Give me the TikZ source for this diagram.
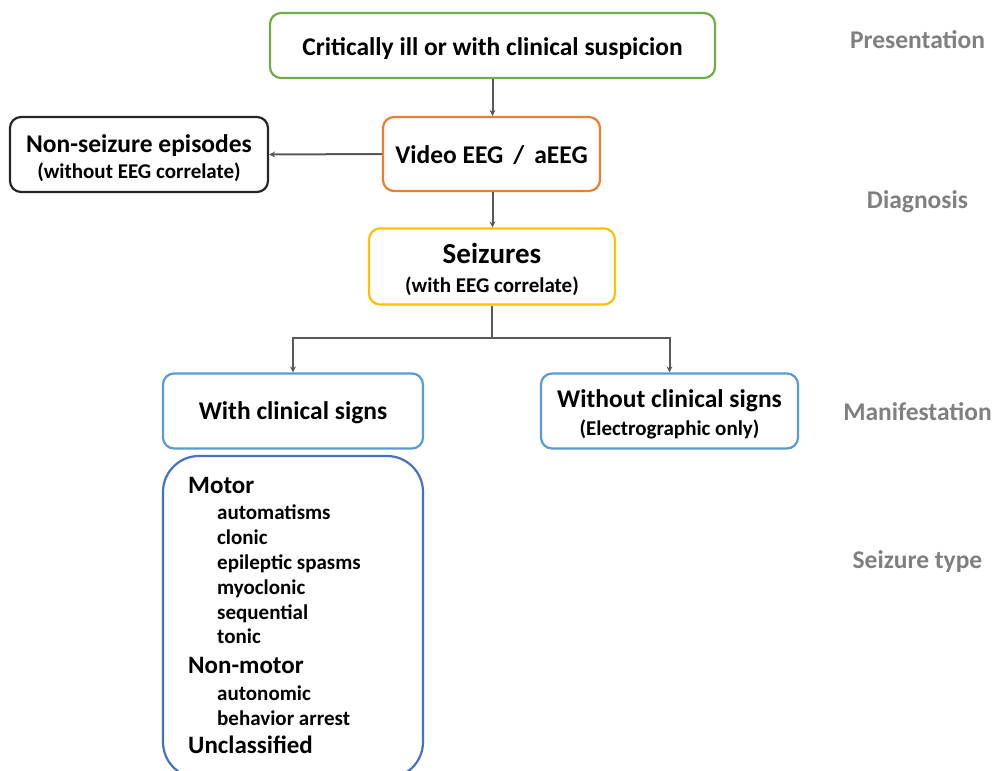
\documentclass[tikz,border=0pt]{standalone}
\usepackage{fontspec}
\setmainfont{Carlito}
\usetikzlibrary{arrows.meta}
\definecolor{cgreen}{HTML}{70AD47}
\definecolor{corange}{HTML}{ED7D31}
\definecolor{cyellow}{HTML}{FFC000}
\definecolor{cblue}{HTML}{5B9BD5}
\definecolor{cdblue}{HTML}{4472C4}
\definecolor{cdark}{HTML}{262626}
\definecolor{carrow}{HTML}{595959}
\definecolor{clabel}{HTML}{808080}
\newcommand{\bigtext}{\fontsize{25.5}{26}\selectfont}
\newcommand{\smalltext}{\fontsize{21}{26}\selectfont}
\tikzset{
  box/.style={draw, line width=2.2pt, rounded corners=11pt, align=center, inner sep=0pt, font=\bfseries\bigtext, text depth=5pt},
  conn/.style={draw=carrow, line width=2pt, -{Stealth[length=6pt,width=6pt]}},
  plain/.style={draw=carrow, line width=2pt},
  stage/.style={text=clabel, anchor=base, inner sep=0pt, font=\bfseries\fontsize{25.5}{26}\selectfont},
  head/.style={anchor=base west, font=\bfseries\fontsize{25}{26}\selectfont, inner sep=0pt},
  item/.style={anchor=base west, font=\bfseries\fontsize{21}{24}\selectfont, inner sep=0pt}
}
\begin{document}
\begin{tikzpicture}[x=1pt,y=-1pt]
\useasboundingbox (0,0) rectangle (994,771);
% boxes
\node[box, draw=cgreen, minimum width=445pt, minimum height=65pt, text height=24pt] (pres) at (492.5,45.5)
  {Critically ill or with clinical suspicion};
\node[box, draw=corange, minimum width=217pt, minimum height=74pt, text height=23pt] (eeg) at (491.5,154)
  {Video EEG \,/\, aEEG};
\node[box, draw=cdark, minimum width=258pt, minimum height=75pt, text height=52pt] (non) at (139,154.5)
  {Non-seizure episodes\\[0pt]{\smalltext (without EEG correlate)}};
\node[box, draw=cyellow, minimum width=246pt, minimum height=76pt, text height=56pt] (seiz) at (492,266.5)
  {{\fontsize{29}{29}\selectfont Seizures}\\[3pt]{\smalltext (with EEG correlate)}};
\node[box, draw=cblue, minimum width=260pt, minimum height=75pt, text height=21pt] (with) at (293,411)
  {With clinical signs};
\node[box, draw=cblue, minimum width=257pt, minimum height=75pt, text height=53pt] (without) at (669.5,411)
  {Without clinical signs\\[2pt]{\smalltext (Electrographic only)}};
\node[draw=cdblue, line width=2.2pt, rounded corners=36pt, minimum width=260pt, minimum height=322pt, inner sep=0pt] (types) at (293,617) {};
% list
\node[head] (m) at (188,493) {Motor};
\node[item] (i1) at (217,519) {automatisms};
\node[item] (i2) at (217,544) {clonic};
\node[item] (i3) at (217,569) {epileptic spasms};
\node[item] (i4) at (217,594) {myoclonic};
\node[item] (i5) at (217,619) {sequential};
\node[item] (i6) at (217,643) {tonic};
\node[head] (nm) at (188,673) {Non-motor};
\node[item] (j1) at (217,700) {autonomic};
\node[item] (j2) at (217,725) {behavior arrest};
\node[head] (u) at (188,753) {Unclassified};
% stage labels
\node[stage] (s1) at (917.5,48) {Presentation};
\node[stage] (s2) at (917.5,208) {Diagnosis};
\node[stage] (s3) at (917.5,420) {Manifestation};
\node[stage] (s4) at (917.5,568) {Seizure type};
% connectors
\draw[conn] (pres.south) -- (eeg.north -| pres.south);
\draw[conn] (eeg.south -| pres.south) -- (seiz.north -| pres.south);
\draw[conn] (eeg.west) -- (non.east);
\coordinate (split) at (492,338);
\draw[plain] (seiz.south -| split) -- (split);
\draw[conn] (split) -| (with.north);
\draw[conn] (split) -| (without.north);
\end{tikzpicture}
\end{document}
